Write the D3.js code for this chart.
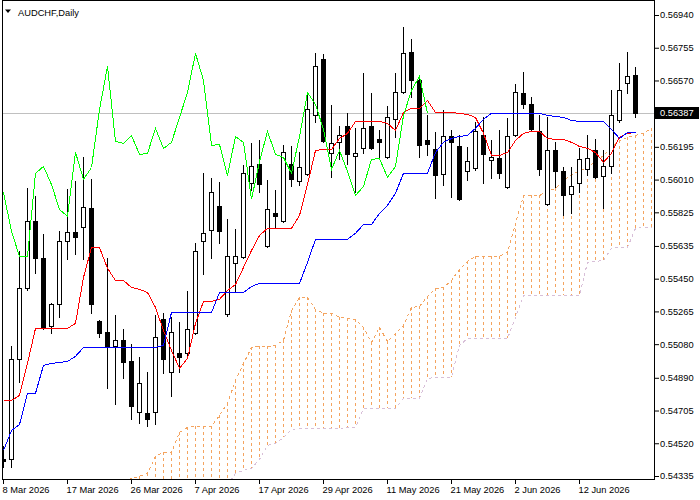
<!DOCTYPE html>
<html><head><meta charset="utf-8">
<script src="https://cdn.jsdelivr.net/npm/d3@7"></script>
<style>
html,body{margin:0;padding:0;background:#fff;}
svg{display:block;}
text{font-family:"Liberation Sans",Arial,sans-serif;font-size:9.3px;fill:#000;}
</style></head><body><svg id="c" width="700" height="500"></svg>
<script>
const chartTitle = "AUDCHF,Daily";
const dateLabels = ["8 Mar 2026","17 Mar 2026","26 Mar 2026","7 Apr 2026","17 Apr 2026","29 Apr 2026","11 May 2026","21 May 2026","2 Jun 2026","12 Jun 2026"];
const dateLabelBars = [0,8,16,24,32,40,48,56,64,72];
const priceTicks = [0.56940,0.56755,0.56570,0.56195,0.56010,0.55825,0.55635,0.55450,0.55265,0.55080,0.54890,0.54705,0.54520,0.54335];
const lastPrice = 0.56387;

const open = [0.54432,0.54432,0.54997,0.55398,0.55776,0.55567,0.55183,0.55307,0.55663,0.55714,
0.55742,0.55850,0.55211,0.55149,0.55070,0.55104,0.54985,0.54697,0.54692,0.54697,
0.55223,0.54923,0.55031,0.55031,0.55144,0.55663,0.55725,0.55861,0.55251,0.55539,
0.55573,0.55991,0.56098,0.55635,0.55822,0.55776,0.56098,0.56002,0.56042,0.56375,
0.56692,0.56161,0.56223,0.56313,0.56144,0.56189,0.56313,0.56240,0.56138,0.56353,
0.56505,0.56731,0.56573,0.56234,0.56183,0.56042,0.56257,0.56200,0.56059,0.56076,
0.56262,0.56121,0.56132,0.55968,0.56262,0.56500,0.56437,0.56285,0.55872,0.56177,
0.56059,0.55929,0.55991,0.56070,0.56177,0.56031,0.56087,0.56347,0.56556,0.56601];
const high = [0.54505,0.55070,0.55607,0.55963,0.55918,0.55703,0.55313,0.55720,0.55957,0.56002,
0.56138,0.56014,0.55217,0.55567,0.55245,0.55166,0.55081,0.55008,0.54923,0.55245,
0.55257,0.55234,0.55206,0.55381,0.55652,0.56048,0.56019,0.55997,0.55788,0.55731,
0.56093,0.56217,0.56234,0.56008,0.55951,0.56206,0.56200,0.56166,0.56500,0.56726,
0.56720,0.56432,0.56313,0.56387,0.56302,0.56613,0.56500,0.56290,0.56426,0.56613,
0.56872,0.56805,0.56601,0.56375,0.56279,0.56403,0.56290,0.56262,0.56194,0.56336,
0.56364,0.56234,0.56290,0.56358,0.56550,0.56618,0.56477,0.56375,0.56364,0.56223,
0.56081,0.56081,0.56189,0.56262,0.56240,0.56177,0.56516,0.56669,0.56731,0.56646];
const low = [0.54386,0.54386,0.54867,0.55386,0.55483,0.55166,0.55144,0.55234,0.55562,0.55590,
0.55562,0.55257,0.55121,0.54833,0.54742,0.54889,0.54658,0.54635,0.54618,0.54629,
0.54918,0.54788,0.54923,0.55014,0.55138,0.55477,0.55567,0.55652,0.55240,0.55375,
0.55567,0.55951,0.55940,0.55629,0.55737,0.55771,0.55974,0.55980,0.56036,0.56336,
0.56223,0.56025,0.56127,0.56098,0.55940,0.56161,0.56183,0.56138,0.56132,0.56251,
0.56500,0.56477,0.56138,0.56149,0.55906,0.55980,0.55912,0.55895,0.56008,0.56064,
0.55991,0.56019,0.56019,0.55963,0.56257,0.56415,0.56290,0.56036,0.55867,0.55968,
0.55810,0.55822,0.55940,0.56036,0.56019,0.55850,0.56048,0.56336,0.56500,0.56364];
const close = [0.54420,0.54997,0.55398,0.55776,0.55567,0.55172,0.55307,0.55663,0.55714,0.55686,
0.55855,0.55307,0.55144,0.55070,0.55104,0.54980,0.54731,0.54861,0.54658,0.55121,
0.54997,0.55149,0.55008,0.55166,0.55607,0.55709,0.55940,0.55720,0.55579,0.55579,
0.56048,0.56087,0.55985,0.55844,0.55805,0.56166,0.56014,0.56081,0.56409,0.56652,
0.56228,0.56217,0.56262,0.56155,0.56161,0.56302,0.56189,0.56223,0.56364,0.56505,
0.56726,0.56573,0.56206,0.56211,0.56036,0.56257,0.56223,0.55901,0.56115,0.56285,
0.56155,0.56138,0.56048,0.56257,0.56505,0.56437,0.56296,0.56070,0.56177,0.56059,
0.55923,0.55974,0.56127,0.56132,0.56025,0.56087,0.56375,0.56516,0.56596,0.56387];

const tenkan = [0.54765,0.54765,0.54793,0.54974,0.55172,0.55172,0.55172,0.55172,0.55172,0.55200,
0.55460,0.55629,0.55629,0.55511,0.55443,0.55443,0.55403,0.55392,0.55375,0.55290,
0.55160,0.55047,0.54946,0.55002,0.55200,0.55324,0.55324,0.55336,0.55386,0.55420,
0.55516,0.55612,0.55697,0.55737,0.55737,0.55737,0.55737,0.55810,0.55985,0.56177,
0.56183,0.56183,0.56245,0.56274,0.56341,0.56341,0.56341,0.56341,0.56330,0.56290,
0.56392,0.56415,0.56415,0.56460,0.56392,0.56392,0.56392,0.56387,0.56381,0.56364,
0.56274,0.56149,0.56149,0.56166,0.56234,0.56274,0.56285,0.56285,0.56245,0.56240,
0.56240,0.56223,0.56200,0.56189,0.56166,0.56110,0.56161,0.56251,0.56274,0.56279];
const kijun = [0.54482,0.54595,0.54629,0.54805,0.54805,0.54963,0.54974,0.54980,0.54985,0.55014,
0.55064,0.55064,0.55064,0.55064,0.55064,0.55064,0.55064,0.55064,0.55064,0.55064,
0.55076,0.55262,0.55262,0.55262,0.55262,0.55262,0.55262,0.55375,0.55375,0.55375,
0.55375,0.55409,0.55426,0.55426,0.55426,0.55426,0.55426,0.55426,0.55545,0.55675,
0.55675,0.55675,0.55675,0.55675,0.55709,0.55759,0.55759,0.55822,0.55867,0.55935,
0.56048,0.56048,0.56048,0.56048,0.56166,0.56223,0.56245,0.56257,0.56262,0.56302,
0.56353,0.56387,0.56387,0.56387,0.56387,0.56387,0.56387,0.56387,0.56375,0.56370,
0.56364,0.56347,0.56341,0.56341,0.56341,0.56341,0.56296,0.56245,0.56279,0.56279];
// Senkou spans, 82 bars (cloud is plotted 2 bars beyond the last candle in view)
const senkouA = [null,null,null,null,null,null,null,null,null,null,
null,null,null,null,null,0.54296,0.54324,0.54336,0.54353,0.54449,
0.54471,0.54471,0.54584,0.54612,0.54618,0.54618,0.54618,0.54680,0.54748,0.54878,
0.54974,0.55064,0.55070,0.55070,0.55076,0.55104,0.55273,0.55347,0.55347,0.55279,
0.55257,0.55257,0.55234,0.55228,0.55223,0.55177,0.55093,0.55177,0.55098,0.55144,
0.55189,0.55290,0.55296,0.55353,0.55398,0.55403,0.55443,0.55505,0.55550,0.55579,
0.55579,0.55579,0.55579,0.55601,0.55765,0.55923,0.55923,0.55923,0.55946,0.55963,
0.56008,0.56042,0.56059,0.56081,0.56115,0.56149,0.56194,0.56234,0.56251,0.56262,
0.56274,0.56302];
const senkouB = [null,null,null,null,null,null,null,null,null,null,
null,null,null,null,null,null,null,null,null,null,
null,null,null,null,null,null,null,null,0.54285,0.54353,
0.54369,0.54381,0.54432,0.54511,0.54522,0.54556,0.54601,0.54607,0.54607,0.54607,
0.54607,0.54607,0.54607,0.54612,0.54612,0.54720,0.54720,0.54720,0.54720,0.54720,
0.54776,0.54776,0.54776,0.54889,0.54895,0.54895,0.54895,0.55076,0.55115,0.55115,
0.55115,0.55115,0.55115,0.55115,0.55234,0.55358,0.55358,0.55358,0.55358,0.55358,
0.55358,0.55358,0.55358,0.55545,0.55550,0.55556,0.55624,0.55629,0.55629,0.55737,
0.55742,0.55742];
const chikouShift = 26;

const svg = d3.select("#c");
const plotL = 3, plotR = 654, plotT = 1, plotB = 479;
const x = d3.scaleLinear().domain([0, 81]).range([3, 651]);
const y = d3.scaleLinear().domain([0.54335, 0.56940]).range([476, 15]);
const cx = i => Math.round(x(i)) + 0.5;
const py = v => Math.round(y(v));

svg.append("defs").append("clipPath").attr("id","clip")
  .append("rect").attr("x",plotL).attr("y",plotT).attr("width",plotR-plotL).attr("height",plotB-plotT);

const g = svg.append("g").attr("clip-path","url(#clip)");

// last price line
g.append("line").attr("x1",plotL).attr("x2",plotR).attr("y1",py(lastPrice)+0.5).attr("y2",py(lastPrice)+0.5)
  .attr("stroke","#c0c0c0").attr("stroke-width",1);

// cloud hatch
const colUp = "#f4a460", colDn = "#d8bfd8";
const dash = "3,3";
senkouA.forEach((a,i)=>{
  if (a == null) return;
  const b = senkouB[i];
  const y1 = y(a);
  const y2 = b == null ? plotB + 2 : y(b);
  const col = (b == null || a >= b) ? colUp : colDn;
  g.append("line").attr("x1",cx(i)).attr("x2",cx(i)).attr("y1",Math.round(y1)).attr("y2",Math.round(y2))
    .attr("stroke",col).attr("stroke-width",1).attr("stroke-dasharray",dash).attr("shape-rendering","crispEdges");
});
const lineGen = d3.line().defined(d => d[1] != null).x(d => cx(d[0])).y(d => y(d[1]) + 0.5);
g.append("path").attr("d", lineGen(senkouA.map((v,i)=>[i,v]))).attr("fill","none")
  .attr("stroke",colUp).attr("stroke-dasharray",dash).attr("shape-rendering","crispEdges");
g.append("path").attr("d", lineGen(senkouB.map((v,i)=>[i,v]))).attr("fill","none")
  .attr("stroke",colDn).attr("stroke-dasharray",dash).attr("shape-rendering","crispEdges");

// candles
open.forEach((o,i)=>{
  const c = close[i];
  const xc = cx(i);
  g.append("line").attr("x1",xc).attr("x2",xc).attr("y1",py(high[i])).attr("y2",py(low[i])+1)
    .attr("stroke","#000").attr("shape-rendering","crispEdges");
  const yt = py(Math.max(o,c)), yb = py(Math.min(o,c));
  if (yb - yt < 1) {
    g.append("line").attr("x1",xc-2.5).attr("x2",xc+2.5).attr("y1",yt+0.5).attr("y2",yt+0.5)
      .attr("stroke","#000").attr("shape-rendering","crispEdges");
  } else {
    g.append("rect").attr("x",xc-2).attr("y",yt+0.5).attr("width",4).attr("height",yb-yt)
      .attr("fill", c >= o ? "#fff" : "#000").attr("stroke","#000").attr("shape-rendering","crispEdges");
  }
});

// ichimoku lines
g.append("path").attr("d", lineGen(tenkan.map((v,i)=>[i,v]))).attr("fill","none").attr("stroke","#ff0000").attr("shape-rendering","crispEdges");
g.append("path").attr("d", lineGen(kijun.map((v,i)=>[i,v]))).attr("fill","none").attr("stroke","#0000ff").attr("shape-rendering","crispEdges");
g.append("path").attr("d", lineGen(close.slice(chikouShift).map((v,k)=>[k,v]))).attr("fill","none").attr("stroke","#00ff00").attr("shape-rendering","crispEdges");

// frame
svg.append("rect").attr("x",2.5).attr("y",0.5).attr("width",652).attr("height",479)
  .attr("fill","none").attr("stroke","#000").attr("shape-rendering","crispEdges");

// right axis
const ay = svg.append("g").attr("transform","translate(655,0)")
  .call(d3.axisRight(y).tickValues(priceTicks).tickSize(4).tickPadding(1).tickFormat(d=>d.toFixed(5)));
ay.select(".domain").remove();
ay.selectAll("line").attr("stroke","#000");

// bottom axis
const ax = svg.append("g").attr("transform","translate(0,480)")
  .call(d3.axisBottom(x).tickValues(dateLabelBars).tickSize(4).tickPadding(2).tickFormat((d,k)=>dateLabels[k]));
ax.select(".domain").remove();
ax.selectAll("line").attr("stroke","#000");
ax.selectAll("text").attr("text-anchor","start").attr("x",-1);

// last price label
const lp = py(lastPrice);
svg.append("rect").attr("x",655).attr("y",lp-6).attr("width",44).attr("height",12).attr("fill","#000");
svg.append("text").attr("x",660).attr("y",lp).attr("dy","0.34em").style("fill","#fff").text(lastPrice.toFixed(5));

// title
svg.append("path").attr("d","M5,9.5 L11,9.5 L8,13 Z").attr("fill","#000");
svg.append("text").attr("x",18).attr("y",15.5).text(chartTitle);
</script>
</body></html>
